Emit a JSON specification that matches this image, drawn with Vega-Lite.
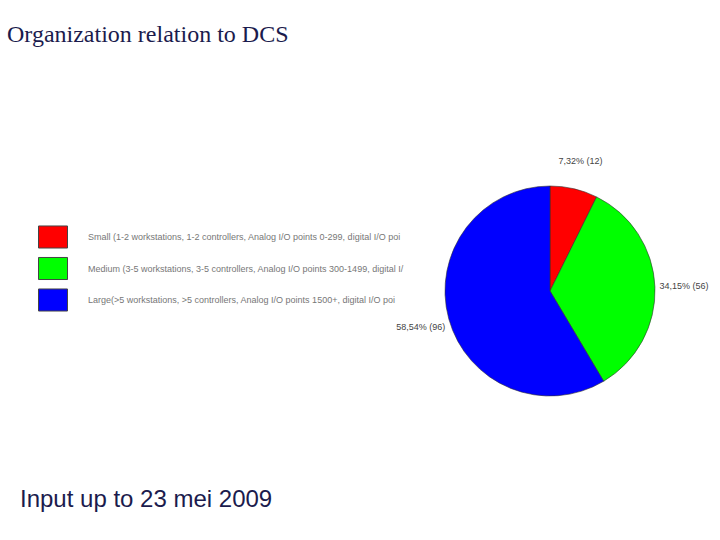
{
  "$schema": "https://vega.github.io/schema/vega-lite/v6.json",
  "description": "Organization relation to DCS, pie of organisation size.",
  "autosize": "none",
  "width": 210,
  "height": 210,
  "padding": {"left": 445, "top": 186, "right": 65, "bottom": 144},
  "background": "white",
  "title": {
    "text": "Input up to 23 mei 2009",
    "orient": "bottom",
    "anchor": "start",
    "frame": "group",
    "dx": -425,
    "offset": 110,
    "baseline": "alphabetic",
    "font": "Liberation Sans",
    "fontSize": 24,
    "fontWeight": "normal",
    "color": "#1b1b4d"
  },
  "data": {
    "values": [
      {"category": "Small (1-2 workstations, 1-2 controllers, Analog I/O points 0-299, digital I/O poi", "count": 12, "label": "7,32% (12)", "rank": 1},
      {"category": "Medium (3-5 workstations, 3-5 controllers, Analog I/O points 300-1499, digital I/", "count": 56, "label": "34,15% (56)", "rank": 2},
      {"category": "Large(>5 workstations, >5 controllers, Analog I/O points 1500+, digital I/O poi", "count": 96, "label": "58,54% (96)", "rank": 3}
    ]
  },
  "encoding": {
    "theta": {"field": "count", "type": "quantitative", "stack": true},
    "order": {"field": "rank", "type": "quantitative"}
  },
  "layer": [
    {
      "mark": {"type": "arc", "outerRadius": 105, "stroke": "#333", "strokeWidth": 0.6},
      "encoding": {
        "color": {
          "field": "category",
          "type": "nominal",
          "sort": null,
          "scale": {"range": ["#ff0000", "#00ff00", "#0000ff"]},
          "legend": {
            "orient": "none",
            "legendX": -438,
            "legendY": -163,
            "title": "Organization relation to DCS",
            "titleFont": "Liberation Serif",
            "titleFontSize": 24,
            "titleFontWeight": "normal",
            "titleColor": "#1b1b4d",
            "titleBaseline": "top",
            "titleLimit": 600,
            "titlePadding": 175,
            "padding": 0,
            "symbolOffset": 31,
            "symbolType": "M-1,-0.76H1V0.76H-1Z",
            "symbolSize": 841,
            "symbolStrokeColor": "#444",
            "symbolStrokeWidth": 1,
            "labelOffset": 20,
            "labelFont": "Liberation Sans",
            "labelFontSize": 9,
            "labelColor": "#777",
            "labelLimit": 400,
            "rowPadding": 2.5
          }
        }
      }
    },
    {
      "mark": {"type": "text", "radius": 134, "font": "Liberation Sans", "fontSize": 9, "color": "#444"},
      "encoding": {"text": {"field": "label", "type": "nominal"}}
    }
  ]
}
